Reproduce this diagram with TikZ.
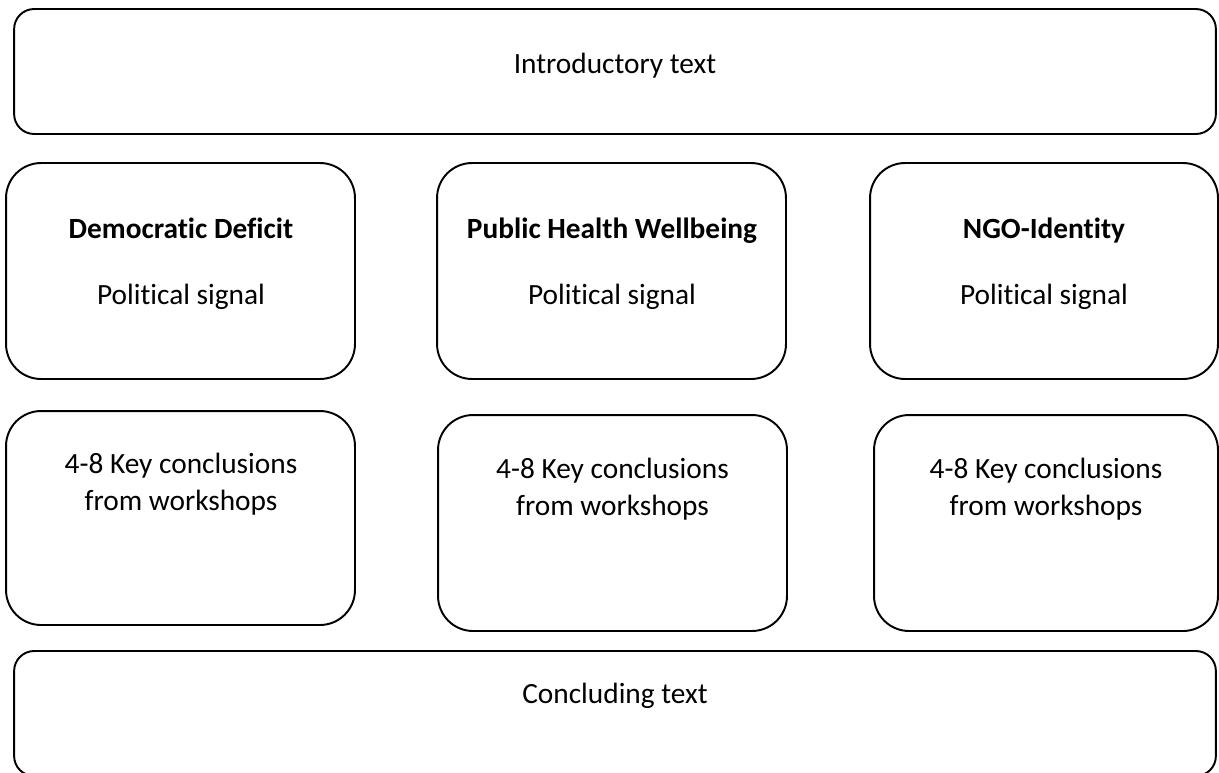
\documentclass[tikz,border=0pt]{standalone}
\usepackage{fontspec}
\setmainfont[Ligatures=NoCommon]{Carlito}
\usetikzlibrary{positioning}

\tikzset{
  box/.style={draw, line width=1.1pt, inner sep=0pt, outer sep=0pt, rounded corners=0.7cm},
  widebox/.style={box, rounded corners=0.4cm, minimum width=24.04cm, minimum height=2.5cm},
  topicbox/.style={box, minimum width=6.98cm, minimum height=4.32cm},
  label/.style={align=center, anchor=base, inner sep=0pt, font=\fontsize{16.7}{21}\selectfont}
}

\begin{document}
\begin{tikzpicture}[x=0.02cm, y=-0.02cm]
                \useasboundingbox (0,0) rectangle (1219,772);
                % frames
                \node[widebox] (intro) at (615,71.5) {};
                \node[topicbox] (deficit) at (180.5,271) {};
                \node[topicbox] (health) at (611.5,271) {};
                \node[topicbox, minimum width=6.96cm] (ngo) at (1044,271) {};
                \node[topicbox, minimum height=4.28cm] (deficitkey) at (180.5,518) {};
                \node[topicbox] (healthkey) at (612.5,523) {};
                \node[topicbox, minimum width=6.88cm] (ngokey) at (1046,523) {};
                \node[widebox] (concl) at (615,713.5) {};
                % texts
                \node[label] (introtext) at (615,73) {Introductory text};
                \node[label] (deficittitle) at (181,238) {\textbf{Democratic Deficit}};
                \node[label] (deficitsignal) at (181,304) {Political signal};
                \node[label] (healthtitle) at (612,238) {\textbf{Public Health Wellbeing}};
                \node[label] (healthsignal) at (612,304) {Political signal};
                \node[label] (ngotitle) at (1044,238) {\textbf{NGO-Identity}};
                \node[label] (ngosignal) at (1044,304) {Political signal};
                \node[label] (deficitkeytext) at (181,510) {4-8 Key conclusions\\from workshops};
                \node[label] (healthkeytext) at (612.5,515) {4-8 Key conclusions\\from workshops};
                \node[label] (ngokeytext) at (1046,515) {4-8 Key conclusions\\from workshops};
                \node[label] (concltext) at (615,703) {Concluding text};
\end{tikzpicture}
\end{document}
